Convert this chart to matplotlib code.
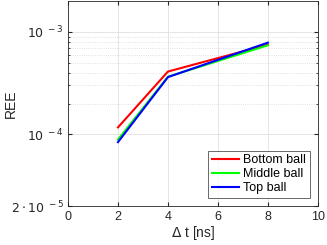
import matplotlib
matplotlib.use("Agg")
import matplotlib.pyplot as plt
from matplotlib.ticker import FixedLocator, NullFormatter, FixedFormatter

plt.rcParams['font.family'] = ['Liberation Sans', 'DejaVu Sans']

dt = [2, 4, 8]
bottom = [1.17e-4, 4.1e-4, 7.5e-4]
middle = [8.9e-5, 3.65e-4, 7.4e-4]
top = [8.4e-5, 3.62e-4, 7.85e-4]
series = [("Bottom ball", bottom, "#ff0000"),
          ("Middle ball", middle, "#00ff00"),
          ("Top ball", top, "#0000ff")]
yticks = [2e-5, 1e-4, 1e-3]
yticklabels = [r"$2\cdot10^{\ -5}$", r"$10^{\ -4}$", r"$10^{\ -3}$"]
xticks = [0, 2, 4, 6, 8, 10]

fig = plt.figure(figsize=(3.27, 2.45), dpi=100)
ax = fig.add_axes([0.208, 0.159, 0.764, 0.837])
for name, vals, c in series:
    ax.plot(dt, vals, color=c, lw=1.5, label=name)
ax.set_yscale('log')
ax.set_xlim(0, 10)
ax.set_ylim(2e-5, 2e-3)
ax.set_xticks(xticks)
ax.yaxis.set_major_locator(FixedLocator(yticks))
ax.yaxis.set_major_formatter(FixedFormatter(yticklabels))
ax.yaxis.set_minor_locator(FixedLocator([k * 1e-4 for k in range(2, 10)]))
ax.yaxis.set_minor_formatter(NullFormatter())
ax.grid(True, which='major', color='#e0e0e0', lw=0.6)
ax.grid(True, which='minor', axis='y', color='#d8d8d8', lw=0.6, ls=':')
ax.set_axisbelow(True)
ax.tick_params(direction='in', which='both', top=True, right=True, labelsize=9,
               colors='#262626', length=3)
ax.tick_params(axis='y', pad=3)
ax.tick_params(which='minor', length=1.5)
for s in ax.spines.values():
    s.set_color('#262626')
    s.set_linewidth(0.6)
ax.set_xlabel(r"$\Delta$ t [ns]", fontsize=10, color='#262626', labelpad=1)
ax.set_ylabel("REE", fontsize=10, color='#262626')
ax.yaxis.set_label_coords(-0.2, 0.5)
leg = ax.legend(loc='lower right', fontsize=9, frameon=True, fancybox=False,
                edgecolor='#262626', handlelength=2.2, handletextpad=0.3,
                borderpad=0.3, labelspacing=0.15, borderaxespad=0.65)
leg.get_frame().set_linewidth(0.6)
fig.savefig("out.png", dpi=100)
